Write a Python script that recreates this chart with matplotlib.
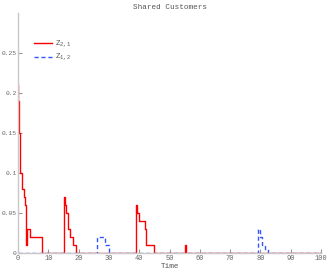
import matplotlib.pyplot as plt

plt.rcParams['font.family'] = ['Liberation Mono', 'DejaVu Sans Mono']
plt.rcParams['mathtext.fontset'] = 'custom'
plt.rcParams['mathtext.rm'] = 'Liberation Mono'
plt.rcParams['mathtext.it'] = 'Liberation Mono'

# step data (time, value), held until next time
red_t = [0, 0.1, 0.2, 0.35, 0.5, 0.7, 1.4, 2.0, 2.4, 2.8, 2.9, 3.9, 7.9,
         15.3, 15.6, 15.8, 16.4, 17.1, 18.3, 19.2,
         39.0, 39.4, 40.0, 41.8, 42.1, 42.3, 44.8,
         55.0, 55.5, 100]
red_z = [0.21, 0.19, 0.17, 0.15, 0.13, 0.1, 0.08, 0.07, 0.06, 0.01, 0.03, 0.02, 0,
         0.07, 0.06, 0.05, 0.03, 0.02, 0.01, 0,
         0.06, 0.05, 0.04, 0.03, 0.02, 0.01, 0,
         0.01, 0, 0]

blue_t = [0, 26.1, 28.8, 29.9, 79.3, 79.8, 80.4, 81.5, 82.6, 100]
blue_z = [0, 0.02, 0.01, 0, 0.03, 0.02, 0.01, 0.005, 0, 0]

xticks = [0, 10, 20, 30, 40, 50, 60, 70, 80, 90, 100]
yticks = [0, 0.05, 0.1, 0.15, 0.2, 0.25]
ylabels = ['0', '0.05', '0.1', '0.15', '0.2', '0.25']

fig = plt.figure(figsize=(3.27, 2.73), dpi=100)
ax = fig.add_axes([0.055, 0.074, 0.927, 0.878])

ax.plot(red_t, red_z, drawstyle='steps-post', color='#ff0000', lw=1.0,
        label=r'$\mathrm{Z}_{2,1}$')
ax.plot(blue_t, blue_z, drawstyle='steps-post', color='#3355ff', lw=1.0,
        ls=(0, (3, 2)), label=r'$\mathrm{Z}_{1,2}$')

ax.set_xlim(0, 100)
ax.set_ylim(0, 0.3)
ax.set_xticks(xticks)
ax.set_xticklabels([str(x) for x in xticks])
ax.set_yticks(yticks)
ax.set_yticklabels(ylabels)

for s in ['top', 'right']:
    ax.spines[s].set_visible(False)
for s in ['left', 'bottom']:
    ax.spines[s].set_color('#c8c8c8')
    ax.spines[s].set_linewidth(1.0)
ax.tick_params(direction='in', length=3, color='#999999',
               labelcolor='#666666', pad=1.5)
ax.tick_params(axis='x', labelsize=5)
ax.tick_params(axis='y', labelsize=4.5, pad=1)

ax.set_title('Shared Customers', fontsize=5.5, color='#555555', pad=3)
ax.set_xlabel('Time', fontsize=5.5, color='#555555', labelpad=0.5)

ax.legend(loc='upper left', bbox_to_anchor=(0.04, 0.91), frameon=False,
          fontsize=5.5, handlelength=2.4, labelcolor='#555555', borderpad=0,
          labelspacing=0.25, handletextpad=0.3)

fig.savefig('out.png', dpi=100)
